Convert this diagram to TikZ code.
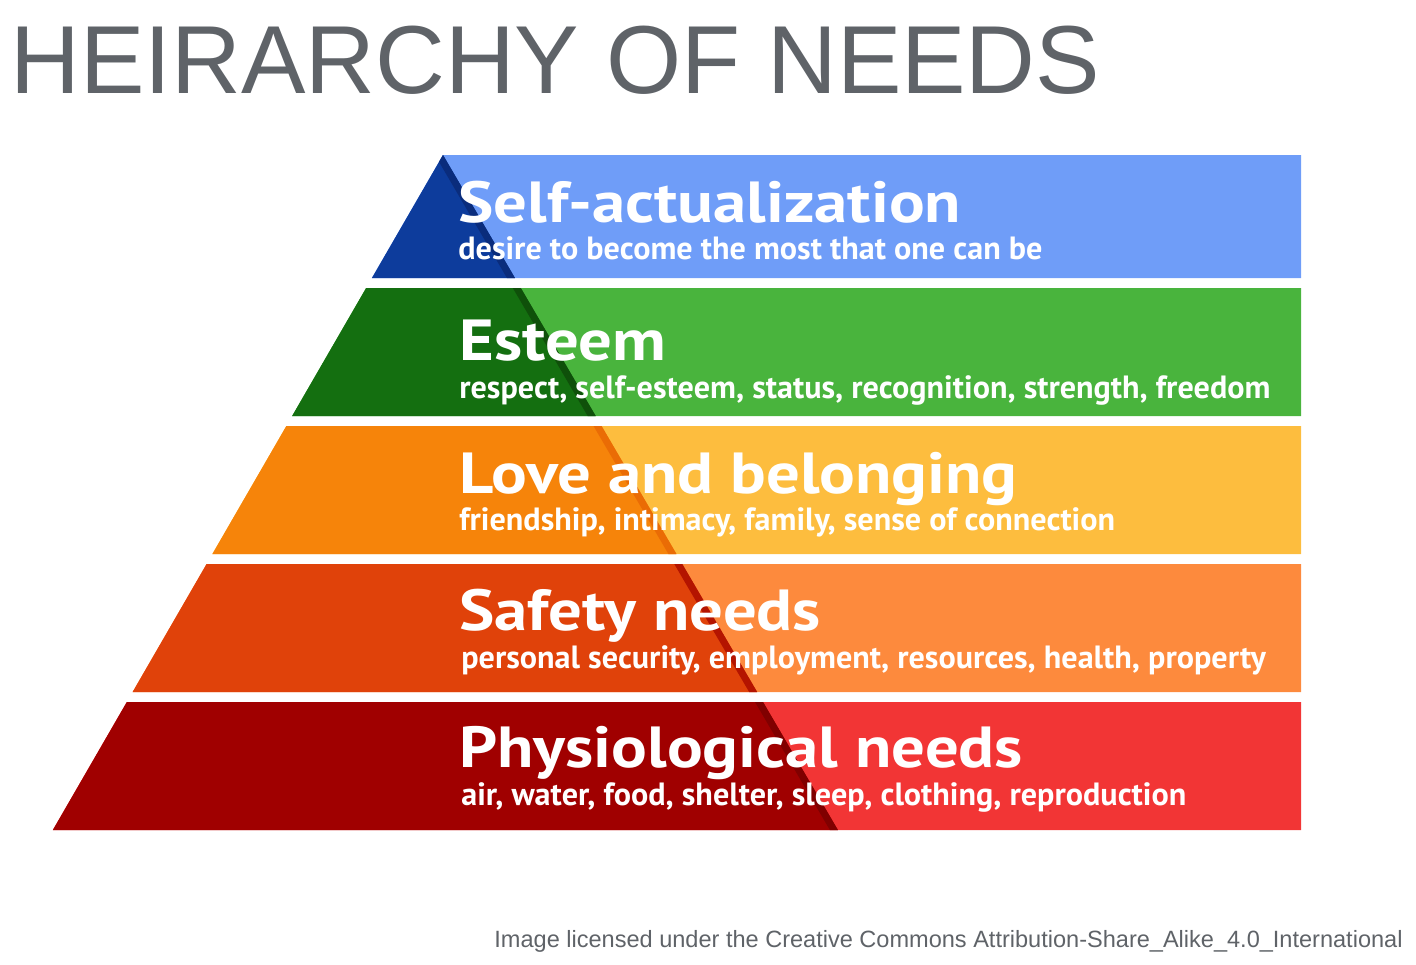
\documentclass[tikz,border=0pt]{standalone}
\usepackage{fontspec}
\setmainfont{Liberation Sans}
\newfontfamily\ptsans{PT Sans}
\newfontfamily\ptsanswide[FakeStretch=1.15]{PT Sans}
\usepackage{xcolor}
\usepackage{tikz}
\usetikzlibrary{positioning}

\definecolor{titlegray}{HTML}{5F6368}
\definecolor{blueD}{HTML}{0D3C9C}
\definecolor{blueL}{HTML}{6F9DF8}
\definecolor{blueE}{HTML}{0A2C7C}
\definecolor{greenD}{HTML}{146F10}
\definecolor{greenL}{HTML}{49B43D}
\definecolor{greenE}{HTML}{0F500A}
\definecolor{yellowD}{HTML}{F6840A}
\definecolor{yellowL}{HTML}{FDBD3E}
\definecolor{yellowE}{HTML}{EA6C05}
\definecolor{orangeD}{HTML}{E0420A}
\definecolor{orangeL}{HTML}{FD8A3D}
\definecolor{orangeE}{HTML}{B41400}
\definecolor{redD}{HTML}{A00000}
\definecolor{redL}{HTML}{F23535}
\definecolor{redE}{HTML}{800000}

% one band of the pyramid: top, bottom, dark, light, edge
\newcommand{\needband}[5]{%
  \pgfmathsetmacro{\xlt}{443-0.578*(#1-155)}
  \pgfmathsetmacro{\xlb}{443-0.578*(#2-155)}
  \pgfmathsetmacro{\xrt}{443+0.585*(#1-155)}
  \pgfmathsetmacro{\xrb}{443+0.585*(#2-155)}
  \begin{scope}
  \clip (\xlt,#1) -- (1301,#1) -- (1301,#2) -- (\xlb,#2) -- cycle;
  \fill[#4] (\xlt,#1) -- (1301,#1) -- (1301,#2) -- (\xlb,#2) -- cycle;
  \fill[#3] (\xlt-10,#1) -- (\xrt,#1) -- (\xrb,#2) -- (\xlb-10,#2) -- cycle;
  \fill[#5] (\xrt-8,#1) -- (\xrt,#1) -- (\xrb,#2) -- (\xrb-8,#2) -- cycle;
  \end{scope}
}

\begin{document}
\begin{tikzpicture}
        [x=0.02cm, y=-0.02cm,
        heading/.style={anchor=base west,inner sep=0,text=titlegray,font=\fontsize{55}{60}\selectfont},
        needname/.style={anchor=base west,inner sep=0,text=white,font=\ptsanswide\bfseries\fontsize{33}{36}\selectfont},
        needdesc/.style={anchor=base west,inner sep=0,text=white,font=\ptsans\bfseries\fontsize{18.3}{20}\selectfont},
        credit/.style={anchor=base east,inner sep=0,text=titlegray,font=\fontsize{13.4}{16}\selectfont}]

\useasboundingbox (0,0) rectangle (1416,964);

% bands
\needband{155}{278}{blueD}{blueL}{blueE}
\needband{288}{416}{greenD}{greenL}{greenE}
\needband{426}{554}{yellowD}{yellowL}{yellowE}
\needband{564}{692}{orangeD}{orangeL}{orangeE}
\needband{702}{830}{redD}{redL}{redE}

% heading
\node[heading] at (10,93) (title) {HEIRARCHY OF NEEDS};

% needs
\node[needname] at (458,222) (selfact) {Self-actualization};
\node[needdesc] at (458,259) (selfactdesc) {desire to become the most that one can be};

\node[needname] at (459,360) (esteem) {Esteem};
\node[needdesc] at (459,398) (esteemdesc) {respect, self-esteem, status, recognition, strength, freedom};

\node[needname] at (459,493) (love) {Love and belonging};
\node[needdesc] at (459,530) (lovedesc) {friendship, intimacy, family, sense of connection};

\node[needname] at (459,630) (safety) {Safety needs};
\node[needdesc] at (461,668) (safetydesc) {personal security, employment, resources, health, property};

\node[needname] at (459,767) (physio) {Physiological needs};
\node[needdesc] at (461,805) (physiodesc) {air, water, food, shelter, sleep, clothing, reproduction};

% licence line
\node[credit] at (1403,947) (licence) {Image licensed under the Creative Commons Attribution-Share\_Alike\_4.0\_International};

\end{tikzpicture}
\end{document}
